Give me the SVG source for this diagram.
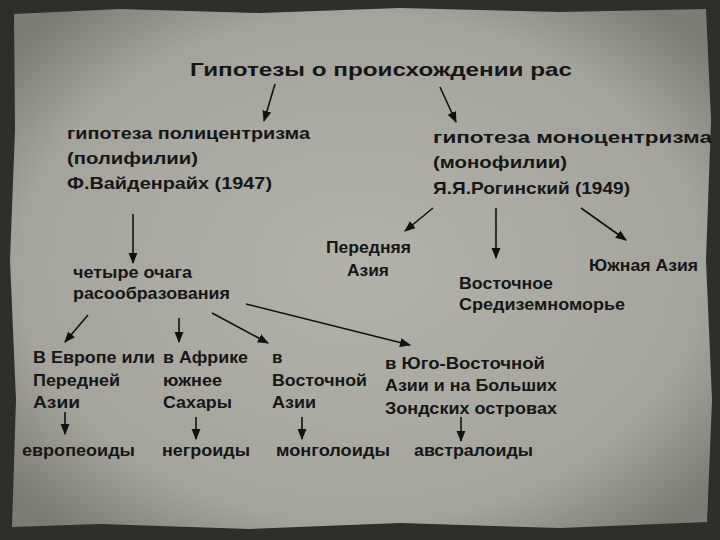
<svg xmlns="http://www.w3.org/2000/svg" width="720" height="540" viewBox="0 0 720 540">
<defs>
<radialGradient id="pg" cx="50%" cy="50%" r="65%">
<stop offset="0" stop-color="#b2b2aa"/><stop offset="0.75" stop-color="#a4a49c"/><stop offset="1" stop-color="#7c7c74"/>
</radialGradient>
<marker id="ah" viewBox="0 0 10 10" refX="9" refY="5" markerWidth="7" markerHeight="7" orient="auto"><path d="M0,1 L10,5 L0,9 z" fill="#111"/></marker>
<style>
text{font-family:"Liberation Sans",Arial,sans-serif;font-size:17px;font-weight:bold;fill:#161616}
.t{font-size:19px}
.c{stroke:#111;stroke-width:1.6;fill:none;marker-end:url(#ah)}
</style>
</defs>
<rect width="720" height="540" fill="#2e2e2b"/>
<path d="M14,14 L120,9 L260,13 L400,8 L560,12 L706,9 L711,120 L706,260 L712,400 L707,522 L560,528 L400,523 L250,529 L100,524 L12,527 L16,400 L10,260 L15,130 Z" fill="url(#pg)"/>
<g id="title"><text class="t" x="190" y="76" textLength="382" lengthAdjust="spacingAndGlyphs">Гипотезы о происхождении рас</text></g>
<g id="poly"><text x="67" y="139" textLength="243" lengthAdjust="spacingAndGlyphs">гипотеза полицентризма</text><text x="67" y="164" textLength="131" lengthAdjust="spacingAndGlyphs">(полифилии)</text><text x="67" y="189" textLength="205" lengthAdjust="spacingAndGlyphs">Ф.Вайденрайх (1947)</text></g>
<g id="mono"><text x="433" y="143" textLength="279" lengthAdjust="spacingAndGlyphs">гипотеза моноцентризма</text><text x="433" y="168" textLength="134" lengthAdjust="spacingAndGlyphs">(монофилии)</text><text x="433" y="194" textLength="197" lengthAdjust="spacingAndGlyphs">Я.Я.Рогинский (1949)</text></g>
<g id="four"><text x="73" y="278" textLength="119" lengthAdjust="spacingAndGlyphs">четыре очага</text><text x="73" y="299" textLength="157" lengthAdjust="spacingAndGlyphs">расообразования</text></g>
<g id="pa"><text x="326" y="253" textLength="85" lengthAdjust="spacingAndGlyphs">Передняя</text><text x="347" y="276" textLength="42" lengthAdjust="spacingAndGlyphs">Азия</text></g>
<g id="ya"><text x="589" y="271" textLength="109" lengthAdjust="spacingAndGlyphs">Южная Азия</text></g>
<g id="vs"><text x="459" y="289" textLength="94" lengthAdjust="spacingAndGlyphs">Восточное</text><text x="459" y="310" textLength="166" lengthAdjust="spacingAndGlyphs">Средиземноморье</text></g>
<g id="eu"><text x="33" y="363" textLength="122" lengthAdjust="spacingAndGlyphs">В Европе или</text><text x="33" y="386" textLength="87" lengthAdjust="spacingAndGlyphs">Передней</text><text x="33" y="408" textLength="47" lengthAdjust="spacingAndGlyphs">Азии</text></g>
<g id="af"><text x="163" y="363" textLength="85" lengthAdjust="spacingAndGlyphs">в Африке</text><text x="163" y="386" textLength="59" lengthAdjust="spacingAndGlyphs">южнее</text><text x="163" y="408" textLength="69" lengthAdjust="spacingAndGlyphs">Сахары</text></g>
<g id="ea"><text x="272" y="363">в</text><text x="272" y="386" textLength="95" lengthAdjust="spacingAndGlyphs">Восточной</text><text x="272" y="408" textLength="44" lengthAdjust="spacingAndGlyphs">Азии</text></g>
<g id="sea"><text x="385" y="369" textLength="160" lengthAdjust="spacingAndGlyphs">в  Юго-Восточной</text><text x="385" y="391" textLength="172" lengthAdjust="spacingAndGlyphs">Азии и на Больших</text><text x="385" y="414" textLength="172" lengthAdjust="spacingAndGlyphs">Зондских островах</text></g>
<g id="r1"><text x="22" y="456" textLength="113" lengthAdjust="spacingAndGlyphs">европеоиды</text></g>
<g id="r2"><text x="162" y="456" textLength="88" lengthAdjust="spacingAndGlyphs">негроиды</text></g>
<g id="r3"><text x="276" y="456" textLength="114" lengthAdjust="spacingAndGlyphs">монголоиды</text></g>
<g id="r4"><text x="414" y="456" textLength="119" lengthAdjust="spacingAndGlyphs">австралоиды</text></g>
<g id="connectors">
<path class="c" d="M275,84 L264,121"/>
<path class="c" d="M440,87 L456,122"/>
<path class="c" d="M133,214 L133,263"/>
<path class="c" d="M433,208 L405,231"/>
<path class="c" d="M496,208 L496,258"/>
<path class="c" d="M581,208 L626,240"/>
<path class="c" d="M88,315 L65,342"/>
<path class="c" d="M179,318 L179,342"/>
<path class="c" d="M212,313 L268,343"/>
<path class="c" d="M246,304 L410,345"/>
<path class="c" d="M65,412 L65,434"/>
<path class="c" d="M196,417 L196,439"/>
<path class="c" d="M302,417 L302,439"/>
<path class="c" d="M461,417 L461,441"/>
</g>
</svg>
